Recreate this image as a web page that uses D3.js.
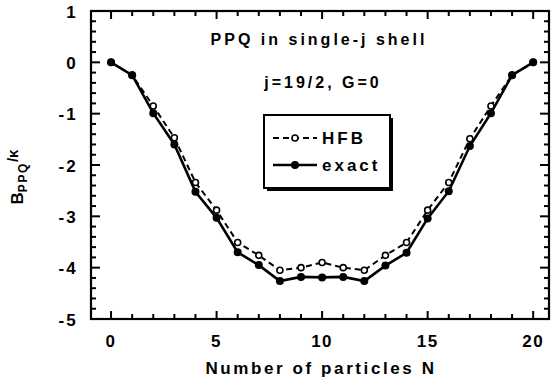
<!DOCTYPE html>
<html>
<head>
<meta charset="utf-8">
<script src="https://cdn.jsdelivr.net/npm/d3@7"></script>
<style>
  html, body { margin: 0; padding: 0; background: #fff; }
  svg { display: block; }
  text { font-family: "Liberation Sans", Arial, Helvetica, sans-serif; font-weight: bold; fill: #000; }
</style>
</head>
<body>
<svg id="chart" width="553" height="388"></svg>
<script>
// Particle number N in the single-j shell
const particles = [0,1,2,3,4,5,6,7,8,9,10,11,12,13,14,15,16,17,18,19,20];
// B_PPQ / kappa, Hartree-Fock-Bogoliubov approximation
const hfbValues = [0,-0.25,-0.85,-1.47,-2.34,-2.88,-3.51,-3.76,-4.05,-4.00,-3.90,-4.00,-4.05,-3.76,-3.51,-2.88,-2.34,-1.49,-0.85,-0.25,0];
// B_PPQ / kappa, exact diagonalisation
const exactValues = [0,-0.25,-0.99,-1.60,-2.52,-3.03,-3.70,-3.95,-4.26,-4.18,-4.19,-4.18,-4.26,-3.96,-3.71,-3.04,-2.51,-1.63,-0.99,-0.25,0];
const xTicks = [0,5,10,15,20];
const yTicks = [1,0,-1,-2,-3,-4,-5];
const seriesNames = ["HFB","exact"];

const svg = d3.select("#chart");
const L = 91, R = 549, T = 11, B = 319;
const x = d3.scaleLinear().domain([-0.95, 20.75]).range([L, R]);
const y = d3.scaleLinear().domain([-5, 1]).range([B, T]);

const axes = svg.append("g");
const xMinor = d3.range(0, 21, 1);
const yMinor = d3.range(-5, 1.0001, 0.2).map(v => +v.toFixed(1));
const isMajorX = v => v % 5 === 0;
const isMajorY = v => Math.abs(v - Math.round(v)) < 1e-6;

// ticks on all four sides, pointing into the frame
axes.selectAll(".xb").data(xMinor).join("line")
  .attr("x1", d => x(d)).attr("x2", d => x(d))
  .attr("y1", B).attr("y2", d => B - (isMajorX(d) ? 8 : 5))
  .attr("stroke", "#000").attr("stroke-width", 2);
axes.selectAll(".xt").data(xMinor).join("line")
  .attr("x1", d => x(d)).attr("x2", d => x(d))
  .attr("y1", T).attr("y2", d => T + (isMajorX(d) ? 8 : 5))
  .attr("stroke", "#000").attr("stroke-width", 2);
axes.selectAll(".yl").data(yMinor).join("line")
  .attr("y1", d => y(d)).attr("y2", d => y(d))
  .attr("x1", L).attr("x2", d => L + (isMajorY(d) ? 9 : 5))
  .attr("stroke", "#000").attr("stroke-width", 2);
axes.selectAll(".yr").data(yMinor).join("line")
  .attr("y1", d => y(d)).attr("y2", d => y(d))
  .attr("x1", R).attr("x2", d => R - (isMajorY(d) ? 9 : 5))
  .attr("stroke", "#000").attr("stroke-width", 2);

// frame
svg.append("rect").attr("x", L).attr("y", T).attr("width", R - L).attr("height", B - T)
  .attr("fill", "none").attr("stroke", "#000").attr("stroke-width", 2.2);

// tick labels
svg.append("g").selectAll("text").data(xTicks).join("text")
  .attr("x", d => x(d)).attr("y", 347)
  .attr("text-anchor", "middle").attr("font-size", 17).attr("letter-spacing", 1.5)
  .text(d => d);
svg.append("g").selectAll("text").data(yTicks).join("text")
  .attr("x", 78).attr("y", d => y(d) + 6.5)
  .attr("text-anchor", "end").attr("font-size", 17).attr("letter-spacing", 2.2)
  .text(d => d);

// axis titles
svg.append("text").attr("x", 321).attr("y", 374)
  .attr("text-anchor", "middle").attr("font-size", 17).attr("letter-spacing", 2.6)
  .text("Number of particles N");
const yl = svg.append("text")
  .attr("transform", "translate(23,177) rotate(-90)")
  .attr("text-anchor", "middle").attr("font-size", 17);
yl.append("tspan").text("B");
yl.append("tspan").attr("font-size", 12).attr("dy", 4).attr("letter-spacing", 1.6).text("PPQ");
yl.append("tspan").attr("dy", -9).attr("font-size", 15).text("/κ");

// in-plot annotations
svg.append("text").attr("x", 319).attr("y", 45)
  .attr("text-anchor", "middle").attr("font-size", 16).attr("letter-spacing", 3)
  .text("PPQ in single-j shell");
svg.append("text").attr("x", 323).attr("y", 88)
  .attr("text-anchor", "middle").attr("font-size", 16).attr("letter-spacing", 3)
  .text("j=19/2, G=0");

// data series
const lineGen = vals => d3.line().x((d, i) => x(particles[i])).y(d => y(d))(vals);
svg.append("path").attr("d", lineGen(hfbValues))
  .attr("fill", "none").attr("stroke", "#000").attr("stroke-width", 2).attr("stroke-dasharray", "6,4");
svg.append("path").attr("d", lineGen(exactValues))
  .attr("fill", "none").attr("stroke", "#000").attr("stroke-width", 2.6);
svg.append("g").selectAll("circle").data(hfbValues).join("circle")
  .attr("cx", (d, i) => x(particles[i])).attr("cy", d => y(d)).attr("r", 3)
  .attr("fill", "#fff").attr("stroke", "#000").attr("stroke-width", 1.6);
svg.append("g").selectAll("circle").data(exactValues).join("circle")
  .attr("cx", (d, i) => x(particles[i])).attr("cy", d => y(d)).attr("r", 4)
  .attr("fill", "#000");

// legend with drop shadow
const lg = svg.append("g");
lg.append("rect").attr("x", 267).attr("y", 118).attr("width", 126).attr("height", 73).attr("fill", "#000");
lg.append("rect").attr("x", 264).attr("y", 115).attr("width", 126).attr("height", 73)
  .attr("fill", "#fff").attr("stroke", "#000").attr("stroke-width", 2);
const rows = [
  { name: seriesNames[0], y: 138, dash: "6,4", w: 2, r: 3, fill: "#fff" },
  { name: seriesNames[1], y: 165, dash: null, w: 2.6, r: 3.2, fill: "#000" }
];
rows.forEach(rw => {
  lg.append("line").attr("x1", 273).attr("x2", 317).attr("y1", rw.y).attr("y2", rw.y)
    .attr("stroke", "#000").attr("stroke-width", rw.w).attr("stroke-dasharray", rw.dash);
  lg.append("circle").attr("cx", 295).attr("cy", rw.y).attr("r", rw.r)
    .attr("fill", rw.fill).attr("stroke", "#000").attr("stroke-width", 1.6);
  lg.append("text").attr("x", 322).attr("y", rw.y + 6).attr("font-size", 17).attr("letter-spacing", 3)
    .text(rw.name);
});
</script>
</body>
</html>
